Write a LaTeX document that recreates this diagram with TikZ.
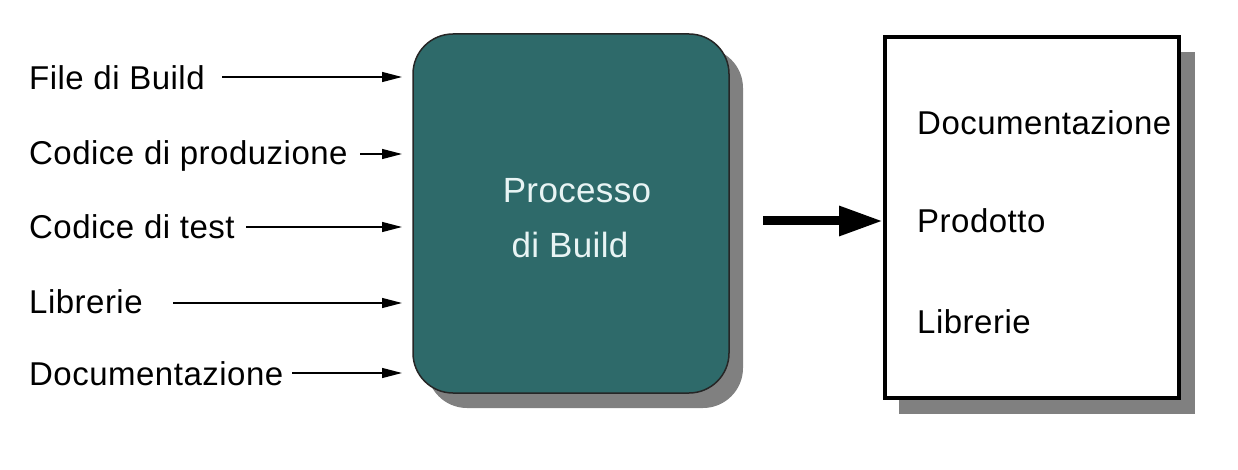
\documentclass[tikz,border=0pt]{standalone}
\usepackage{fontspec}
\setmainfont{Liberation Sans}
\usetikzlibrary{arrows.meta}
\definecolor{tealbox}{RGB}{46,106,106}
\definecolor{shadowgray}{RGB}{128,128,128}
\definecolor{lighttext}{RGB}{232,244,244}
\begin{document}
\begin{tikzpicture}[x=1pt,y=-1pt,
  lbl/.style={anchor=base west,inner sep=0pt,font=\fontsize{33}{36}\selectfont\addfontfeature{LetterSpace=1.5}},
  inarrow/.style={line width=1.3pt,-{Triangle[length=20pt,width=10pt]}},
  bigarrow/.style={line width=9pt,-{Triangle[length=44pt,width=28pt]}},
  procbox/.style={draw=black!85,line width=1.5pt,fill=tealbox,rounded corners=40pt,minimum width=316pt,minimum height=359pt,inner sep=0pt},
  outbox/.style={draw=black,line width=4pt,fill=white,minimum width=294pt,minimum height=361pt,inner sep=0pt},
  proctext/.style={anchor=base,inner sep=0pt,text=lighttext,font=\fontsize{35}{38}\selectfont\addfontfeature{LetterSpace=1.0}}]
\useasboundingbox (0,0) rectangle (1238,470);
% shadows
\fill[shadowgray,rounded corners=40pt] (427,48) rectangle (743,408);
\fill[shadowgray] (899,52) rectangle (1195,414);
% boxes
\node[procbox] (proc) at (571,213.5) {};
\node[outbox] (out) at (1032,217.5) {};
% process text
\node[proctext] (p1) at (577,203) {Processo};
\node[proctext] (p2) at (570,257) {di Build};
% input labels
\node[lbl] (l1) at (29,90) {File di Build};
\node[lbl] (l2) at (29,165) {Codice di produzione};
\node[lbl] (l3) at (29,238) {Codice di test};
\node[lbl] (l4) at (29,313) {Librerie};
\node[lbl] (l5) at (29,385) {Documentazione};
% arrow coordinates
\coordinate (s1) at (222,77);  \coordinate (e1) at (402,77);
\coordinate (s2) at (360,154); \coordinate (e2) at (402,154);
\coordinate (s3) at (246,227); \coordinate (e3) at (402,227);
\coordinate (s4) at (173,303); \coordinate (e4) at (402,303);
\coordinate (s5) at (292,373); \coordinate (e5) at (402,373);
\foreach \i in {1,...,5} {\draw[inarrow] (s\i) -- (e\i);}
% output labels
\node[lbl] (o1) at (917,135) {Documentazione};
\node[lbl] (o2) at (917,233) {Prodotto};
\node[lbl] (o3) at (917,333) {Librerie};
% big arrow
\coordinate (bs) at (763,221);
\draw[bigarrow] (bs) -- (out.west |- bs);
\end{tikzpicture}
\end{document}
